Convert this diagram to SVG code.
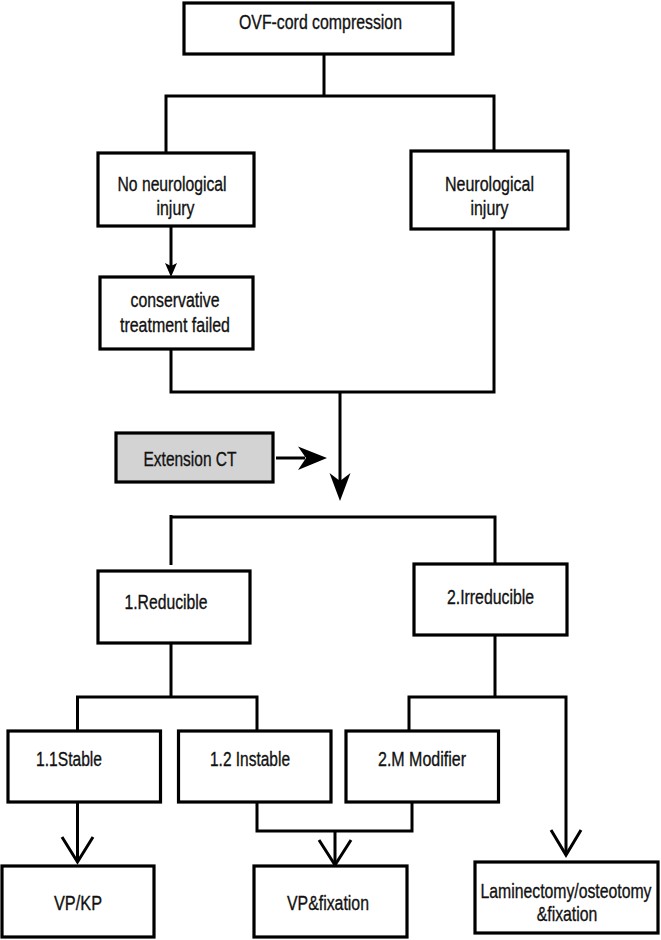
<svg xmlns="http://www.w3.org/2000/svg" width="661" height="940" viewBox="0 0 661 940">
<style>
.box{fill:#fff;stroke:#000;stroke-width:3.2}
.grey{fill:#d3d3d3}
.t{font-family:"Liberation Sans",Arial,sans-serif;font-size:20.5px;fill:#111;stroke:#111;stroke-width:0.35;text-anchor:middle}
.ln{fill:none;stroke:#000;stroke-width:3}
.open{fill:none;stroke:#000;stroke-width:3;stroke-linejoin:miter}
.head{fill:#000}
</style>
<rect width="661" height="940" fill="#fff"/>
<g id="connectors">
<path class="ln" d="M324 54 V96 M166 152 V96 H494 V150"/>
<path class="ln" d="M171 227 V266"/>
<polygon class="head" points="165,263 171,266 177,263 171,277"/>
<path class="ln" d="M171 349 V392 H494 V229 M340 392 V482"/>
<polygon class="head" points="329.5,473 340,481 350.5,473 340,501"/>
<path class="ln" d="M276 458 H305"/>
<polygon class="head" points="298,446.5 306,458 298,470 327,458"/>
<path class="ln" d="M171 515 V565 M171 517 H495 V564"/>
<path class="ln" d="M171 643 V697 M77.5 731 V697 H257 V731"/>
<path class="ln" d="M495 635 V697 M409 731 V697 H566 V854"/>
<path class="open" d="M551 830 L566 855 L581 830"/>
<path class="ln" d="M77.5 802 V861"/>
<path class="open" d="M62 837 L77.5 862 L93 837"/>
<path class="ln" d="M257 802 V831 H412 V802 M335 831 V864"/>
<path class="open" d="M319 840 L335 865 L351 840"/>
</g>
<g id="n_top"><rect class="box" x="184" y="3" width="269" height="51"/><text class="t" x="320.5" y="29" textLength="163" lengthAdjust="spacingAndGlyphs">OVF-cord compression</text></g>
<g id="n_noneuro"><rect class="box" x="98" y="153" width="156" height="73"/><text class="t" x="172" y="191" textLength="109" lengthAdjust="spacingAndGlyphs">No neurological</text><text class="t" x="175.5" y="215" textLength="38" lengthAdjust="spacingAndGlyphs">injury</text></g>
<g id="n_neuro"><rect class="box" x="411" y="151" width="157" height="78"/><text class="t" x="489.5" y="191" textLength="89" lengthAdjust="spacingAndGlyphs">Neurological</text><text class="t" x="489.5" y="215" textLength="38" lengthAdjust="spacingAndGlyphs">injury</text></g>
<g id="n_cons"><rect class="box" x="100" y="277" width="153" height="72"/><text class="t" x="175" y="307" textLength="89" lengthAdjust="spacingAndGlyphs">conservative</text><text class="t" x="175" y="332" textLength="110" lengthAdjust="spacingAndGlyphs">treatment failed</text></g>
<g id="n_ext"><rect class="box grey" x="116" y="433" width="157" height="49"/><text class="t" x="190" y="466" textLength="93" lengthAdjust="spacingAndGlyphs">Extension CT</text></g>
<g id="n_red"><rect class="box" x="98" y="571" width="152" height="72"/><text class="t" x="166" y="609" textLength="83" lengthAdjust="spacingAndGlyphs">1.Reducible</text></g>
<g id="n_irr"><rect class="box" x="414" y="564" width="153" height="71"/><text class="t" x="490.5" y="604" textLength="87" lengthAdjust="spacingAndGlyphs">2.Irreducible</text></g>
<g id="n_stable"><rect class="box" x="8" y="731" width="152.5" height="71"/><text class="t" x="69" y="766" textLength="66" lengthAdjust="spacingAndGlyphs">1.1Stable</text></g>
<g id="n_instable"><rect class="box" x="178.5" y="731" width="152.5" height="71"/><text class="t" x="250" y="766" textLength="80" lengthAdjust="spacingAndGlyphs">1.2 Instable</text></g>
<g id="n_mod"><rect class="box" x="346" y="731" width="152.5" height="71"/><text class="t" x="422" y="766" textLength="88" lengthAdjust="spacingAndGlyphs">2.M Modifier</text></g>
<g id="n_vpkp"><rect class="box" x="2" y="866" width="152" height="71"/><text class="t" x="78" y="910" textLength="48" lengthAdjust="spacingAndGlyphs">VP/KP</text></g>
<g id="n_vpfix"><rect class="box" x="254" y="866" width="153" height="71"/><text class="t" x="328" y="910" textLength="82" lengthAdjust="spacingAndGlyphs">VP&amp;fixation</text></g>
<g id="n_lam"><rect class="box" x="475" y="862" width="183" height="71"/><text class="t" transform="translate(566 898) scale(0.77 1)" x="0" y="0">Laminectomy/osteotomy</text><text class="t" transform="translate(567 921) scale(0.77 1)" x="0" y="0">&amp;fixation</text></g>
</svg>
